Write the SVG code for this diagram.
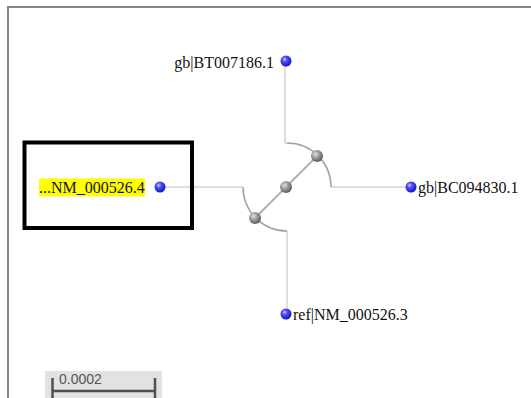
<svg xmlns="http://www.w3.org/2000/svg" width="531" height="398" viewBox="0 0 531 398">
  <style>
    .frame { fill: none; stroke: #858585; stroke-width: 2; }
    .branch { fill: none; stroke: #d4d4d4; stroke-width: 1.5; }
    .arc { fill: none; stroke: #a3a3a3; stroke-width: 1.5; }
    .spine { fill: none; stroke: #b0b0b0; stroke-width: 2; }
    .label { font-family: "Liberation Serif", "Times New Roman", serif; font-size: 16px; fill: #111; }
    .scale-text { font-family: "Liberation Sans", Arial, sans-serif; font-size: 14px; fill: #555; }
  </style>
  <defs>
    <radialGradient id="leafBall" cx="0.38" cy="0.35" r="0.7">
      <stop offset="0" stop-color="#c8c8ff"/>
      <stop offset="0.35" stop-color="#4a4aff"/>
      <stop offset="1" stop-color="#1010b0"/>
    </radialGradient>
    <radialGradient id="innerBall" cx="0.38" cy="0.35" r="0.7">
      <stop offset="0" stop-color="#e0e0e0"/>
      <stop offset="0.45" stop-color="#9a9a9a"/>
      <stop offset="1" stop-color="#555"/>
    </radialGradient>
  </defs>

  <rect width="531" height="398" fill="#fff"/>

  <!-- viewer frame -->
  <path class="frame" d="M8,398 V7 H531"/>

  <!-- connectors -->
  <g id="connectors">
    <path class="branch" d="M285,61 V143 H287"/>
    <path class="branch" d="M331,187 H411"/>
    <path class="branch" d="M160,187 H243"/>
    <path class="branch" d="M287,231 V314"/>
    <path class="arc" d="M287,143 A44,44 0 0 1 331,187"/>
    <path class="arc" d="M243,187 A44,44 0 0 0 287,231"/>
    <path class="spine" d="M317,156 L255,218"/>
  </g>

  <!-- internal nodes -->
  <g id="node-root"><circle cx="286" cy="187" r="6" fill="url(#innerBall)"/></g>
  <g id="node-upper"><circle cx="317" cy="156" r="6" fill="url(#innerBall)"/></g>
  <g id="node-lower"><circle cx="255" cy="218" r="6" fill="url(#innerBall)"/></g>

  <!-- leaves -->
  <g id="leaf-BT007186">
    <circle cx="286" cy="61" r="5.5" fill="url(#leafBall)"/>
    <text class="label" x="274" y="68" text-anchor="end">gb|BT007186.1</text>
  </g>
  <g id="leaf-BC094830">
    <circle cx="411" cy="187" r="5.5" fill="url(#leafBall)"/>
    <text class="label" x="418" y="193">gb|BC094830.1</text>
  </g>
  <g id="leaf-NM_000526_3">
    <circle cx="286" cy="314" r="5.5" fill="url(#leafBall)"/>
    <text class="label" x="293" y="320">ref|NM_000526.3</text>
  </g>
  <g id="leaf-NM_000526_4">
    <rect x="24.5" y="142.5" width="167.5" height="85.5" fill="none" stroke="#000" stroke-width="4"/>
    <rect x="39" y="178.5" width="106" height="18" fill="#ffff00"/>
    <circle cx="160" cy="187" r="5.5" fill="url(#leafBall)"/>
    <text class="label" x="39" y="193">...NM_000526.4</text>
  </g>

  <!-- scale bar -->
  <g id="scale-bar">
    <rect x="45" y="371" width="117" height="27" fill="#e2e2e2"/>
    <path d="M52.5,378 V398 M155,378 V398 M52.5,391 H155" fill="none" stroke="#505050" stroke-width="2.5"/>
    <text class="scale-text" x="59" y="384">0.0002</text>
  </g>
</svg>
